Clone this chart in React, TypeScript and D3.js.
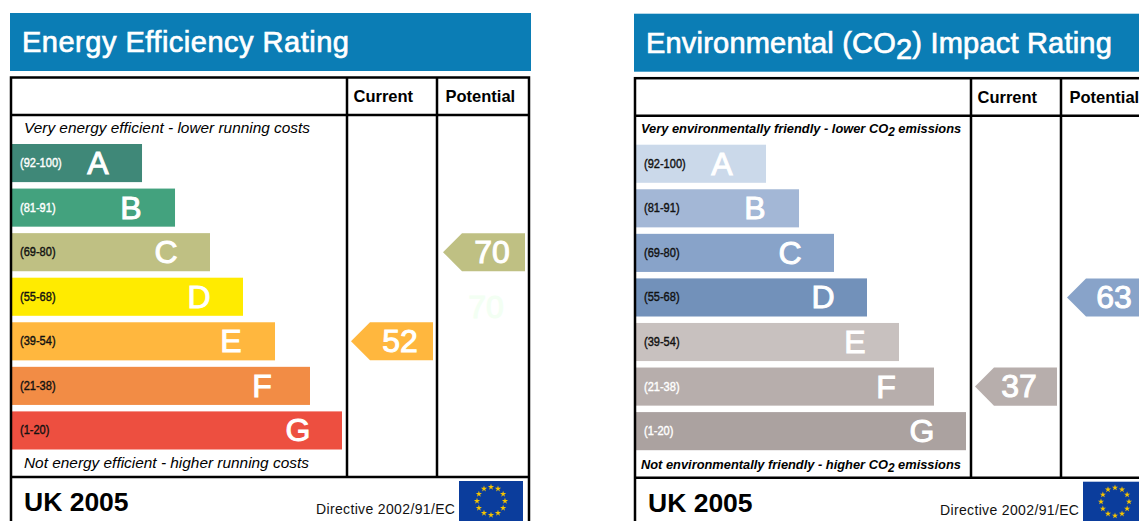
import React from 'react';
import * as d3 from 'd3';

const bands = ['A', 'B', 'C', 'D', 'E', 'F', 'G'];
const rangeLabels = ['(92-100)', '(81-91)', '(69-80)', '(55-68)', '(39-54)', '(21-38)', '(1-20)'];
const rangeFloors = [92, 81, 69, 55, 39, 21, 1];
// bar length as a share of the longest bar
const barLengths = [39.4, 49.4, 60, 70, 79.7, 90.3, 100];

const energyColors = ['#3f8878', '#43a27e', '#bfc083', '#ffeb00', '#ffb73e', '#f28c45', '#ed4f40'];
const energyLabelColors = ['#fff', '#fff', '#111', '#111', '#111', '#111', '#111'];
const co2Colors = ['#cbd9ea', '#a3b7d6', '#88a3c9', '#7291ba', '#c8c1bf', '#b7aeac', '#aba2a0'];
const co2LabelColors = ['#111', '#111', '#111', '#111', '#111', '#fff', '#fff'];

const columns = ['Current', 'Potential'];
const energyScores = [52, 70];
const co2Scores = [37, 63];
// the arrows in the picture do not always take their own band's colour
const energyArrowColors = ['#ffb73e', '#bfc083'];
const co2ArrowColors = ['#b7aeac', '#88a3c9'];

const SANS = '"Liberation Sans", Arial, sans-serif';

const x = d3.scaleLinear().domain([0, 100]).range([12, 342]);
const y = d3.scaleBand().domain(bands).range([144, 449.5]).paddingInner(0.145);
const columnX = d3.scaleOrdinal<string, number>().domain(columns).range([347, 437]);

const bandOf = (score: number) => bands[rangeFloors.findIndex(f => score >= f)];

const arrowWidth = 82;
const arrowNotch = 19;

// arrow with its point on the left
const arrowPath = (left: number, top: number, h: number) => {
  const p = d3.path();
  p.moveTo(left, top + h / 2);
  p.lineTo(left + arrowNotch, top);
  p.lineTo(left + arrowWidth, top);
  p.lineTo(left + arrowWidth, top + h);
  p.lineTo(left + arrowNotch, top + h);
  p.closePath();
  return p.toString();
};

const star = d3.symbol().type(d3.symbolStar).size(12)();

const EuFlag = ({ left, top }: { left: number; top: number }) => {
  const angle = d3.scaleLinear().domain([0, 12]).range([0, 2 * Math.PI]);
  return (
    <g transform={`translate(${left},${top})`}>
      <rect width={64} height={40} fill="#0b3d9c" />
      {d3.range(12).map(i => (
        <path
          key={i}
          d={star!}
          fill="#f5c400"
          transform={`translate(${32 + 14 * Math.sin(angle(i))},${20 - 14 * Math.cos(angle(i))})`}
        />
      ))}
    </g>
  );
};

const Panel = ({ dx, dy, title, titleSpacing, colors, labelColors, arrowColors, scores, digitShift, top, bottom }: any) => (
  <g transform={`translate(${dx},${dy})`} fontFamily={SANS}>
    <rect x={10} y={13} width={521} height={58} fill="#0b7db5" />
    <text x={22} y={52} fontSize={29} letterSpacing={titleSpacing} fill="#fff" stroke="#fff" strokeWidth={0.7}>
      {title}
    </text>

    {bands.map((b, i) => (
      <g key={b}>
        <rect x={x(0)} y={y(b)} width={x(barLengths[i]) - x(0)} height={y.bandwidth()} fill={colors[i]} />
        <text
          transform={`translate(20,${y(b)! + 23}) scale(0.85,1)`}
          fontSize={13}
          stroke={labelColors[i]}
          strokeWidth={0.4}
          fill={labelColors[i]}
        >
          {rangeLabels[i]}
        </text>
        <text
          x={x(barLengths[i]) - (b === 'F' ? 48 : 44)}
          y={y(b)! + 30}
          fontSize={32}
          textAnchor="middle"
          fill="#fff"
          stroke="#fff"
          strokeWidth={1}
        >
          {b}
        </text>
      </g>
    ))}

    <rect x={11} y={77.5} width={518} height={470} fill="none" stroke="#000" strokeWidth={2.5} />
    <g stroke="#000" strokeWidth={2.5}>
      <line x1={11} x2={529} y1={115} y2={115} />
      <line x1={11} x2={529} y1={477} y2={477} />
      {columns.map(c => (
        <line key={c} x1={columnX(c)} x2={columnX(c)} y1={77.5} y2={477} />
      ))}
    </g>

    {columns.map(c => (
      <text key={c} x={columnX(c) + (c === 'Current' ? 6.5 : 8.5)} y={102} fontSize={16.5} fontWeight={700} fill="#000">
        {c}
      </text>
    ))}

    {columns.map((c, i) => {
      const band = bandOf(scores[i]);
      const left = columnX(c) + (c === 'Current' ? 4 : 6);
      return (
        <g key={c}>
          <path d={arrowPath(left, y(band)!, y.bandwidth())} fill={arrowColors[i]} />
          <text
            x={left + digitShift[i]}
            y={y(band)! + 29.5}
            fontSize={32}
            textAnchor="middle"
            fill="#fff"
            stroke="#fff"
            strokeWidth={1}
          >
            {scores[i]}
          </text>
        </g>
      );
    })}

    {top}
    {bottom}

    <text x={24} y={511} fontSize={26.5} fontWeight={700} fill="#000">UK 2005</text>
    <text x={316} y={514} fontSize={14} letterSpacing={0.35} fill="#111">Directive 2002/91/EC</text>
    <EuFlag left={459} top={481} />
  </g>
);

const note = (x0: number, y0: number, size: number, weight: number, before: string, after?: string) => (
  <text x={x0} y={y0} fontSize={size} fontStyle="italic" fontWeight={weight} fill="#000">
    {before}
    {after !== undefined && <tspan fontSize={size - 1} dy={3}>2</tspan>}
    {after !== undefined && <tspan dy={-3}>{after}</tspan>}
  </text>
);

export default function App() {
  return (
    <svg width={1139} height={521} style={{ position: 'absolute', left: 0, top: 0, background: '#fff' }}>
      <Panel
        dx={0}
        dy={0}
        title="Energy Efficiency Rating"
        titleSpacing={0.5}
        colors={energyColors}
        labelColors={energyLabelColors}
        arrowColors={energyArrowColors}
        scores={energyScores}
        digitShift={[49, 49]}
        top={note(24, 132.5, 15.4, 400, 'Very energy efficient - lower running costs')}
        bottom={note(24, 468, 15.4, 400, 'Not energy efficient - higher running costs')}
      />
      {/* faint leftover digits in the potential column */}
      <text x={486} y={318} fontFamily={SANS} fontSize={32} textAnchor="middle" fill="#f3fff3" stroke="#f3fff3">70</text>
      <Panel
        dx={624}
        dy={0.7}
        title={<>Environmental (CO<tspan dy={6}>2</tspan><tspan dy={-6}>) Impact Rating</tspan></>}
        titleSpacing={0.2}
        colors={co2Colors}
        labelColors={co2LabelColors}
        arrowColors={co2ArrowColors}
        scores={co2Scores}
        digitShift={[44, 47]}
        top={note(17, 132.5, 12.85, 700, 'Very environmentally friendly - lower CO', ' emissions')}
        bottom={note(17, 468, 12.85, 700, 'Not environmentally friendly - higher CO', ' emissions')}
      />
    </svg>
  );
}
